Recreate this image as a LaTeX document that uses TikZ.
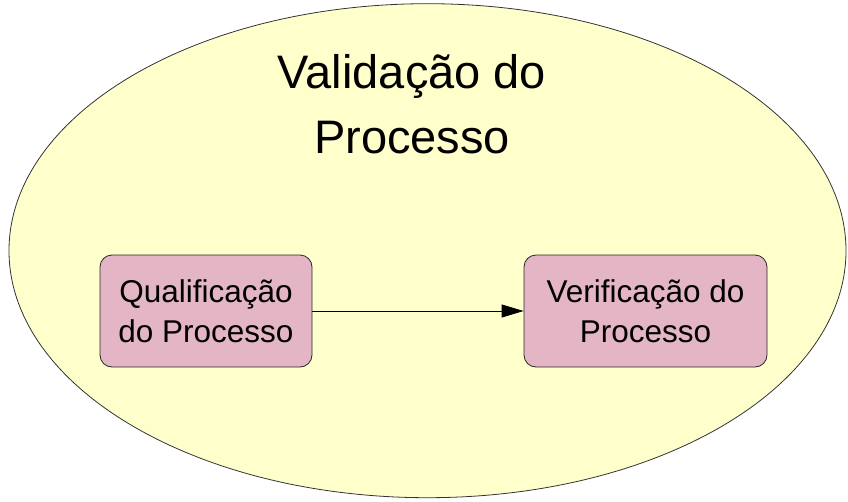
\documentclass[tikz,border=0pt]{standalone}
\usepackage{fontspec}
\setmainfont{Liberation Sans}
\usepackage{tikz}
\usetikzlibrary{positioning, arrows.meta}
\usetikzlibrary{shapes.geometric}

\definecolor{fundo}{RGB}{255,255,204}
\definecolor{caixa}{RGB}{227,181,197}

\begin{document}
\begin{tikzpicture}[x=1pt,y=-1pt,>={Triangle[length=22pt,width=13pt]},
	line width=0.8pt,
	etapa/.style={draw=black!85, rounded corners=12pt, fill=caixa,
		minimum height=112pt, align=center, inner sep=0pt,
		font=\fontsize{31.5}{40}\selectfont}]
	\useasboundingbox (0,0) rectangle (848,501);
	\node[ellipse, draw=black!80, fill=fundo, inner sep=0pt,
		minimum width=837pt, minimum height=494pt] (valid) at (427.5,250.7) {};
	\node[align=center, inner sep=0pt, font=\fontsize{47}{65}\selectfont]
		(titulo) at (412,104) {Validação do\\Processo};
	
	\node[etapa, minimum width=212pt] (qualif) at (206,311) {Qualificação\\do Processo};
	\node[etapa, minimum width=243pt] (verif) at (645.5,311) {Verificação do\\Processo};
	
	\draw[->] (qualif) -- (verif);
\end{tikzpicture}
\end{document}
